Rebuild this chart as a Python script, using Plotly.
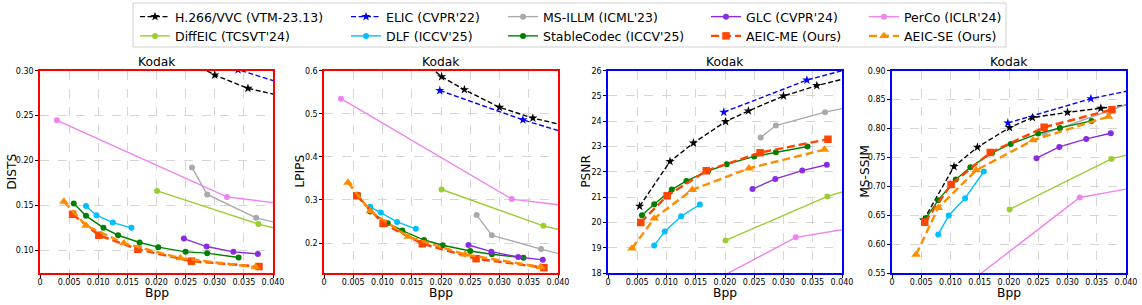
import plotly.graph_objects as go

# ---------------- data ----------------
x_tickvals = [0, 0.005, 0.010, 0.015, 0.020, 0.025, 0.030, 0.035, 0.040]
x_ticktext = ["0", "0.005", "0.010", "0.015", "0.020", "0.025", "0.030", "0.035", "0.040"]

vvc_bpp = [0.0054, 0.0106, 0.0146, 0.0201, 0.0240, 0.0300, 0.0357, 0.0480]
vvc_dists = [0.50, 0.42, 0.37, 0.335, 0.316, 0.2952, 0.2803, 0.2623]
vvc_lpips = [0.78, 0.70, 0.651, 0.586, 0.556, 0.515, 0.490, 0.4514]
vvc_psnr = [20.64, 22.41, 23.14, 23.99, 24.41, 25.0, 25.41, 26.12]
vvc_msssim = [0.6415, 0.7342, 0.7676, 0.8016, 0.8188, 0.828, 0.835, 0.8513]

diffeic_bpp = [0.0201, 0.0375, 0.0500]
diffeic_dists = [0.166, 0.129, 0.109]
diffeic_lpips = [0.3243, 0.240, 0.200]
diffeic_psnr = [19.29, 21.03, 21.88]
diffeic_msssim = [0.660, 0.7474, 0.779]

elic_bpp = [0.0198, 0.0340, 0.0550]
elic_dists = [0.330, 0.301, 0.2586]
elic_lpips = [0.554, 0.486, 0.3985]
elic_psnr = [24.36, 25.63, 26.925]
elic_msssim = [0.8096, 0.8516, 0.8961]

dlf_bpp = [0.0079, 0.0097, 0.0125, 0.0157]
dlf_dists = [0.1493, 0.1389, 0.1307, 0.1248]
dlf_lpips = [0.284, 0.271, 0.249, 0.233]
dlf_psnr = [19.09, 19.64, 20.24, 20.71]
dlf_msssim = [0.6167, 0.6496, 0.6795, 0.7256]

msillm_bpp = [0.0261, 0.0287, 0.0371, 0.0500]
msillm_dists = [0.192, 0.162, 0.136, 0.116]
msillm_lpips = [0.265, 0.218, 0.186, 0.1415]
msillm_psnr = [23.36, 23.83, 24.36, 24.98]
msillm_msssim = [0.791, 0.800, 0.828, 0.877]

stable_bpp = [0.0058, 0.0079, 0.0109, 0.0134, 0.0171, 0.0203, 0.0250, 0.0287, 0.0341]
stable_dists = [0.1519, 0.1382, 0.1248, 0.1166, 0.1085, 0.1033, 0.0981, 0.0966, 0.0918]
stable_lpips = [0.312, 0.273, 0.246, 0.229, 0.207, 0.195, 0.1815, 0.174, 0.166]
stable_psnr = [20.28, 20.72, 21.30, 21.64, 22.03, 22.30, 22.61, 22.78, 23.0]
stable_msssim = [0.645, 0.676, 0.7117, 0.733, 0.7578, 0.7733, 0.7912, 0.801, 0.8131]

glc_bpp = [0.0247, 0.0286, 0.0332, 0.0374]
glc_dists = [0.1129, 0.1040, 0.0981, 0.0958]
glc_lpips = [0.1954, 0.180, 0.1676, 0.161]
glc_psnr = [21.32, 21.72, 22.05, 22.28]
glc_msssim = [0.7486, 0.7682, 0.782, 0.7918]

aeicme_bpp = [0.0056, 0.0101, 0.0168, 0.0260, 0.0376]
aeicme_dists = [0.140, 0.1166, 0.1010, 0.0877, 0.0817]
aeicme_lpips = [0.310, 0.2456, 0.1985, 0.1637, 0.1429]
aeicme_psnr = [20.0, 21.05, 22.04, 22.76, 23.29]
aeicme_msssim = [0.638, 0.703, 0.7584, 0.8021, 0.8326]

perco_bpp = [0.0029, 0.0321, 0.0600]
perco_dists = [0.2447, 0.1593, 0.1368]
perco_lpips = [0.535, 0.302, 0.2556]
perco_psnr = [15.83, 19.41, 20.48]
perco_msssim = [0.4535, 0.6807, 0.7318]

aeicse_bpp = [0.0041, 0.0079, 0.0144, 0.0241, 0.0370]
aeicse_dists = [0.1541, 0.1274, 0.1077, 0.0910, 0.0810]
aeicse_lpips = [0.3405, 0.274, 0.2147, 0.1737, 0.1444]
aeicse_psnr = [18.97, 20.16, 21.29, 22.14, 22.88]
aeicse_msssim = [0.5816, 0.6628, 0.7279, 0.7797, 0.8206]

metric_names = ["DISTS", "LPIPS", "PSNR", "MS-SSIM"]

# ---------------- styling ----------------
FONT = "DejaVu Sans"
W, H = 1142, 305

methods = [
    # name, bpp, values per metric, color, dash, symbol, line width, marker size, legend
    ("H.266/VVC (VTM-23.13)", vvc_bpp, [vvc_dists, vvc_lpips, vvc_psnr, vvc_msssim],
     "black", "5px,2.5px", "star", 1.4, 7, "legend"),
    ("DiffEIC (TCSVT'24)", diffeic_bpp, [diffeic_dists, diffeic_lpips, diffeic_psnr, diffeic_msssim],
     "#9ACD32", "solid", "circle", 1.4, 6, "legend"),
    ("ELIC (CVPR'22)", elic_bpp, [elic_dists, elic_lpips, elic_psnr, elic_msssim],
     "#0000FF", "5px,2.5px", "star", 1.4, 7, "legend2"),
    ("DLF (ICCV'25)", dlf_bpp, [dlf_dists, dlf_lpips, dlf_psnr, dlf_msssim],
     "#00BFFF", "solid", "circle", 1.4, 6, "legend2"),
    ("MS-ILLM (ICML'23)", msillm_bpp, [msillm_dists, msillm_lpips, msillm_psnr, msillm_msssim],
     "#A9A9A9", "solid", "circle", 1.4, 6, "legend3"),
    ("StableCodec (ICCV'25)", stable_bpp, [stable_dists, stable_lpips, stable_psnr, stable_msssim],
     "#008000", "solid", "circle", 1.4, 6, "legend3"),
    ("GLC (CVPR'24)", glc_bpp, [glc_dists, glc_lpips, glc_psnr, glc_msssim],
     "#8A2BE2", "solid", "circle", 1.4, 6, "legend4"),
    ("AEIC-ME (Ours)", aeicme_bpp, [aeicme_dists, aeicme_lpips, aeicme_psnr, aeicme_msssim],
     "#FF4500", "8px,4px", "square", 2.4, 7.5, "legend4"),
    ("PerCo (ICLR'24)", perco_bpp, [perco_dists, perco_lpips, perco_psnr, perco_msssim],
     "#EE82EE", "solid", "circle", 1.4, 6, "legend5"),
    ("AEIC-SE (Ours)", aeicse_bpp, [aeicse_dists, aeicse_lpips, aeicse_psnr, aeicse_msssim],
     "#FF8C00", "8px,4px", "triangle-up", 2.4, 8.5, "legend5"),
]

# pixel boxes of the four panels (left, right) and shared top/bottom
panel_px = [(40, 273), (324, 558), (608, 842), (892, 1126)]
top_px, bottom_px = 70.7, 273
frame_colors = ["#FF0000", "#FF0000", "#0000FF", "#0000FF"]
y_ranges = [[0.0745, 0.30], [0.1305, 0.60], [18, 26], [0.55, 0.90]]
y_ticks = [
    [0.10, 0.15, 0.20, 0.25, 0.30],
    [0.2, 0.3, 0.4, 0.5, 0.6],
    [18, 19, 20, 21, 22, 23, 24, 25, 26],
    [0.55, 0.60, 0.65, 0.70, 0.75, 0.80, 0.85, 0.90],
]
y_fmt = [".2f", ".1f", "d", ".2f"]
ytitle_shift = [-28, -24, -22, -27]

fig = go.Figure()

for i in range(4):
    suffix = "" if i == 0 else str(i + 1)
    xa, ya = "x" + suffix, "y" + suffix
    for (name, bpp, vals, color, dash, sym, lw, ms, leg) in methods:
        fig.add_trace(go.Scatter(
            x=bpp, y=vals[i], name=name, mode="lines+markers",
            line=dict(color=color, width=lw, dash=dash),
            marker=dict(symbol=sym, size=ms, color=color, line=dict(width=0)),
            xaxis=xa, yaxis=ya, legend=leg, showlegend=(i == 0),
        ))

layout = dict(
    width=W, height=H,
    margin=dict(l=0, r=0, t=0, b=0),
    paper_bgcolor="white", plot_bgcolor="white",
    font=dict(family=FONT, color="black"),
)

dom_y = [1 - bottom_px / H, 1 - top_px / H]
for i in range(4):
    suffix = "" if i == 0 else str(i + 1)
    l, r = panel_px[i]
    fc = frame_colors[i]
    layout["xaxis" + suffix] = dict(
        domain=[l / W, r / W], range=[0, 0.040], anchor="y" + suffix,
        tickvals=x_tickvals, ticktext=x_ticktext,
        showline=True, mirror=True, linecolor=fc, linewidth=1.5,
        showgrid=True, gridcolor="#d6d6d6", griddash="dash", gridwidth=0.8,
        zeroline=False, ticks="outside", ticklen=3, tickcolor="black", tickwidth=0.8,
        ticklabelstandoff=-2,
        tickfont=dict(family=FONT, size=8, color="black"), automargin=False,
    )
    layout["yaxis" + suffix] = dict(
        domain=dom_y, range=y_ranges[i], anchor="x" + suffix,
        tickvals=y_ticks[i], tickformat=y_fmt[i],
        showline=True, mirror=True, linecolor=fc, linewidth=1.5,
        showgrid=True, gridcolor="#d6d6d6", griddash="dash", gridwidth=0.8,
        zeroline=False, ticks="outside", ticklen=3, tickcolor="black", tickwidth=0.8,
        tickfont=dict(family=FONT, size=8, color="black"), automargin=False,
    )

# legends: one per column
legend_text_x = [175, 386, 543, 746, 904]
for k, tx in enumerate(legend_text_x):
    key = "legend" if k == 0 else "legend" + str(k + 1)
    layout[key] = dict(
        x=(tx - 40) / W, y=1 - 2 / H, xanchor="left", yanchor="top",
        orientation="v", bgcolor="rgba(0,0,0,0)", borderwidth=0,
        font=dict(family=FONT, size=12.5, color="black"),
        tracegroupgap=0, itemwidth=30,
    )

fig.update_layout(**layout)

# legend frame
fig.add_shape(type="rect", xref="paper", yref="paper",
              x0=133 / W, x1=1006 / W, y0=1 - 47 / H, y1=1 - 3 / H,
              line=dict(color="#d0d0d0", width=1), fillcolor="rgba(255,255,255,0.8)",
              layer="below")

annotations = []
for i in range(4):
    suffix = "" if i == 0 else str(i + 1)
    annotations.append(dict(
        text="Kodak", xref="x" + suffix + " domain", yref="y" + suffix + " domain",
        x=0.5, y=1, xanchor="center", yanchor="bottom", yshift=0, showarrow=False,
        font=dict(family=FONT, size=12.3, color="black")))
    annotations.append(dict(
        text="Bpp", xref="x" + suffix + " domain", yref="y" + suffix + " domain",
        x=0.5, y=0, xanchor="center", yanchor="middle", yshift=-20, showarrow=False,
        font=dict(family=FONT, size=12.3, color="black")))
    annotations.append(dict(
        text=metric_names[i], xref="x" + suffix + " domain", yref="y" + suffix + " domain",
        x=0, y=0.5, xanchor="center", yanchor="middle", xshift=ytitle_shift[i],
        textangle=-90, showarrow=False,
        font=dict(family=FONT, size=12.3, color="black")))
fig.update_layout(annotations=annotations)

fig.write_html(
    "out.html",
    config={"displayModeBar": False},
    post_script="document.body.style.margin='0px';document.body.style.overflow='hidden';",
)
